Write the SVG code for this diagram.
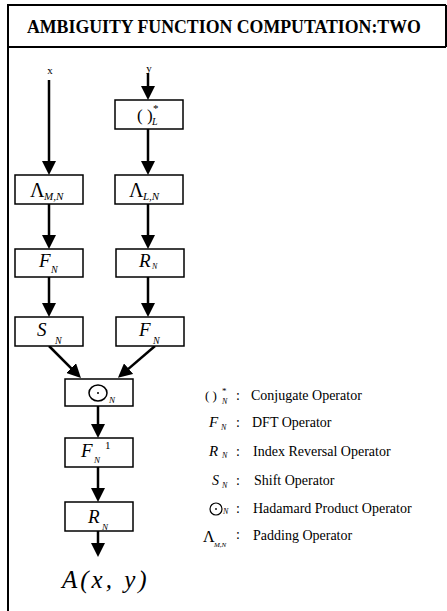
<svg xmlns="http://www.w3.org/2000/svg" width="447" height="611" viewBox="0 0 447 611">
<style>
text{font-family:"Liberation Serif","Times New Roman",serif;fill:#000}
.box{fill:#fff;stroke:#000;stroke-width:1.5}
.frame{fill:none;stroke:#000;stroke-width:2}
.conn line{stroke:#000;stroke-width:2.5}
.big{font-size:19px;font-style:italic}
.sub{font-style:italic}
.leg{font-size:14px}
.sym{font-size:15px;font-style:italic}
</style>
<defs>
<marker id="ah" markerUnits="userSpaceOnUse" markerWidth="14" markerHeight="14" refX="6" refY="7" orient="auto">
<path d="M0,0 L14,7 L0,14 z" fill="#000"/>
</marker>
</defs>
<rect width="447" height="611" fill="#fff"/>
<g id="frame">
<path class="frame" d="M446,5 H8 V611 M8,47 H446 M446,5 V47"/>
<text x="27" y="33" style="font-size:17.8px;font-weight:bold">AMBIGUITY FUNCTION COMPUTATION:TWO</text>
</g>
<g class="conn">
<line x1="49" y1="80" x2="49" y2="167" marker-end="url(#ah)"/>
<line x1="148" y1="73" x2="148" y2="92" marker-end="url(#ah)"/>
<line x1="148" y1="129" x2="148" y2="167" marker-end="url(#ah)"/>
<line x1="49" y1="204" x2="49" y2="241" marker-end="url(#ah)"/>
<line x1="148" y1="204" x2="148" y2="241" marker-end="url(#ah)"/>
<line x1="49" y1="277" x2="49" y2="309" marker-end="url(#ah)"/>
<line x1="148" y1="277" x2="148" y2="309" marker-end="url(#ah)"/>
<line x1="49" y1="346" x2="75.3" y2="372.3" marker-end="url(#ah)"/>
<line x1="155" y1="346" x2="124" y2="372.6" marker-end="url(#ah)"/>
<line x1="98" y1="406" x2="98" y2="430" marker-end="url(#ah)"/>
<line x1="98" y1="467" x2="98" y2="494" marker-end="url(#ah)"/>
<line x1="98" y1="531" x2="98" y2="549" marker-end="url(#ah)"/>
</g>
<g id="in-x"><text x="50" y="74" text-anchor="middle" style="font-size:11px">x</text></g>
<g id="in-y"><text x="149" y="72" text-anchor="middle" style="font-size:11px">y</text></g>
<g id="conj">
<rect class="box" x="115" y="100" width="68" height="29"/>
<text x="137" y="121" style="font-size:17px">( )</text>
<text x="153" y="112" style="font-size:11px">*</text>
<text x="152" y="125" class="sub" style="font-size:10px">L</text>
</g>
<g id="padMN">
<rect class="box" x="15" y="175" width="68" height="29"/>
<text x="30" y="197" style="font-size:20px">Λ</text>
<text x="44" y="200" class="sub" style="font-size:11px">M,N</text>
</g>
<g id="padLN">
<rect class="box" x="115" y="175" width="68" height="29"/>
<text x="129" y="197" style="font-size:20px">Λ</text>
<text x="143" y="200" class="sub" style="font-size:11px">L,N</text>
</g>
<g id="dft1">
<rect class="box" x="15" y="249" width="68" height="28"/>
<text x="39" y="267" class="big">F</text>
<text x="51" y="273" class="sub" style="font-size:10px">N</text>
</g>
<g id="rev1">
<rect class="box" x="116" y="249" width="68" height="28"/>
<text x="139" y="267" class="big">R</text>
<text x="152" y="269" class="sub" style="font-size:8px">N</text>
</g>
<g id="shift">
<rect class="box" x="15" y="317" width="68" height="29"/>
<text x="37" y="336" class="big">S</text>
<text x="55" y="344" class="sub" style="font-size:10px">N</text>
</g>
<g id="dft2">
<rect class="box" x="116" y="317" width="68" height="29"/>
<text x="139" y="336" class="big">F</text>
<text x="153" y="344" class="sub" style="font-size:10px">N</text>
</g>
<g id="hadamard">
<rect class="box" x="65" y="379" width="68" height="27"/>
<ellipse cx="98" cy="393" rx="9" ry="8" fill="none" stroke="#000" stroke-width="1.5"/>
<circle cx="98" cy="393" r="1" fill="#000"/>
<text x="109" y="403" class="sub" style="font-size:9px">N</text>
</g>
<g id="idft">
<rect class="box" x="65" y="438" width="68" height="29"/>
<text x="81" y="457" class="big">F</text>
<text x="94" y="463" class="sub" style="font-size:9px">N</text>
<text x="105" y="449" style="font-size:11px">1</text>
</g>
<g id="rev2">
<rect class="box" x="65" y="502" width="68" height="29"/>
<text x="88" y="523" class="big">R</text>
<text x="102" y="530" class="sub" style="font-size:9px">N</text>
</g>
<g id="out">
<text x="62" y="588" style="font-size:25px;font-style:italic;letter-spacing:3px">A(x, y)</text>
</g>
<g id="legend">
<text x="205" y="400" style="font-size:13px">( )</text>
<text x="222" y="394" style="font-size:9px">*</text>
<text x="222" y="404" class="sub" style="font-size:8px">N</text>
<text x="236" y="400" class="leg">:</text>
<text x="251" y="400" class="leg">Conjugate Operator</text>

<text x="209" y="427" class="sym">F</text>
<text x="221" y="430" class="sub" style="font-size:8px">N</text>
<text x="236" y="427" class="leg">:</text>
<text x="252" y="427" class="leg">DFT Operator</text>

<text x="209" y="456" class="sym">R</text>
<text x="222" y="458" class="sub" style="font-size:8px">N</text>
<text x="236" y="456" class="leg">:</text>
<text x="253" y="456" class="leg">Index Reversal Operator</text>

<text x="212" y="485" class="sym" style="font-size:14px">S</text>
<text x="222" y="488" class="sub" style="font-size:8px">N</text>
<text x="236" y="485" class="leg">:</text>
<text x="254" y="485" class="leg">Shift Operator</text>

<circle cx="216" cy="509" r="6" fill="none" stroke="#000" stroke-width="1.2"/>
<circle cx="216" cy="509" r="0.9" fill="#000"/>
<text x="223" y="514" class="sub" style="font-size:8px">N</text>
<text x="236" y="513" class="leg">:</text>
<text x="253" y="513" class="leg">Hadamard Product Operator</text>

<text x="203" y="542" style="font-size:16px">Λ</text>
<text x="214" y="547" class="sub" style="font-size:7px">M,N</text>
<text x="236" y="539" class="leg">:</text>
<text x="253" y="540" class="leg">Padding Operator</text>
</g>
</svg>
